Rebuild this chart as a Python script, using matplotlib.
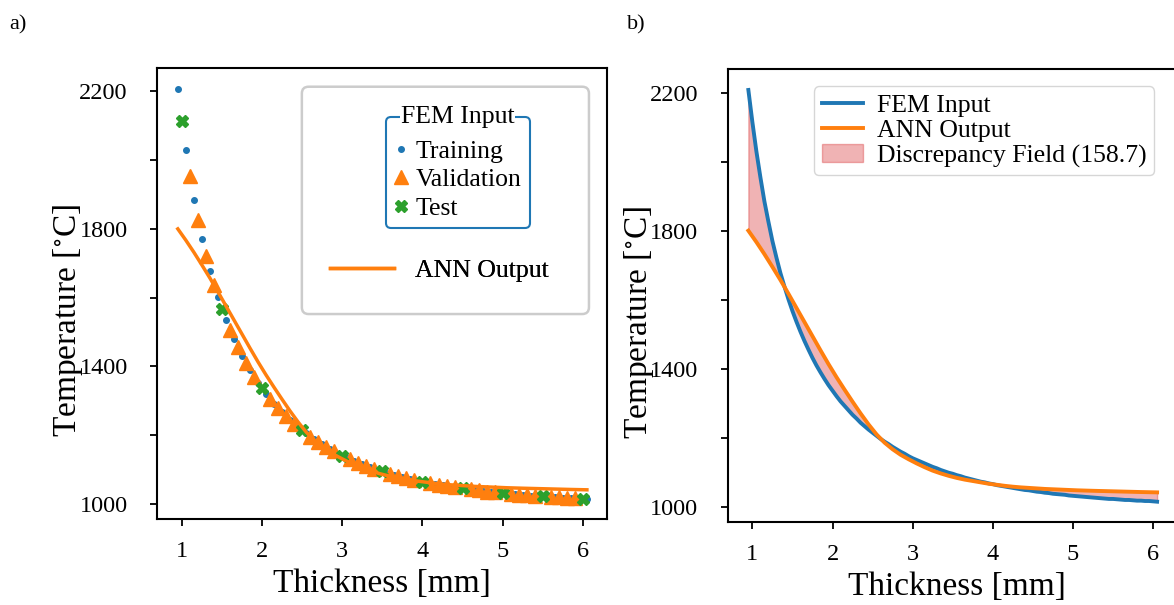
import numpy as np
import matplotlib
matplotlib.use("Agg")
import matplotlib.pyplot as plt
from matplotlib.lines import Line2D
from matplotlib.patches import FancyBboxPatch

plt.rcParams['font.family'] = ['Liberation Serif', 'DejaVu Serif']
plt.rcParams['mathtext.fontset'] = 'stix'

# FEM data (thickness in mm, temperature in degC)
train_x = [0.95, 1.05, 1.15, 1.25, 1.35, 1.45, 1.55, 1.65, 1.75, 1.85, 1.95, 2.05, 2.15,
           2.25, 2.35, 2.45, 2.55, 2.65, 2.75, 2.85, 2.95, 3.05, 3.15, 3.25, 3.35, 3.45,
           3.55, 3.65, 3.75, 3.85, 3.95, 4.05, 4.15, 4.25, 4.35, 4.45, 4.55, 4.65, 4.75,
           4.85, 4.95, 5.05, 5.15, 5.25, 5.35, 5.45, 5.55, 5.65, 5.75, 5.85, 5.95, 6.05]
train_T = [2208, 2030, 1885, 1770, 1677, 1601, 1536, 1480, 1431, 1389, 1352, 1320, 1292,
           1266, 1243, 1223, 1205, 1188, 1173, 1159, 1146, 1135, 1125, 1115, 1106, 1098,
           1091, 1084, 1078, 1072, 1067, 1062, 1058, 1054, 1050, 1047, 1043, 1040, 1037,
           1035, 1032, 1030, 1028, 1026, 1024, 1022, 1021, 1019, 1018, 1017, 1016, 1014]

val_x = [1.1, 1.2, 1.3, 1.4, 1.6, 1.7, 1.8, 1.9, 2.1, 2.2, 2.3, 2.4, 2.6, 2.7, 2.8, 2.9,
         3.1, 3.2, 3.3, 3.4, 3.6, 3.7, 3.8, 3.9, 4.1, 4.2, 4.3, 4.4, 4.6, 4.7, 4.8, 4.9,
         5.1, 5.2, 5.3, 5.4, 5.6, 5.7, 5.8, 5.9]
val_T = [1955, 1826, 1722, 1638, 1507, 1455, 1409, 1370, 1305, 1279, 1255, 1233, 1196, 1181,
         1166, 1153, 1130, 1120, 1111, 1102, 1088, 1081, 1075, 1070, 1060, 1056, 1052, 1048,
         1042, 1039, 1036, 1034, 1029, 1027, 1025, 1023, 1020, 1019, 1017, 1016]

test_x = [1.0, 1.5, 2.0, 2.5, 3.0, 3.5, 4.0, 4.5, 5.0, 5.5, 6.0]
test_T = [2115, 1567, 1336, 1214, 1140, 1095, 1065, 1045, 1031, 1022, 1015]

# ANN output
ann_x = train_x
ann_T = [1800, 1767, 1732, 1695, 1657, 1617, 1576, 1535, 1494, 1453, 1413, 1375, 1339,
         1304, 1270, 1238, 1209, 1185, 1166, 1150, 1137, 1125, 1114, 1104, 1096, 1089,
         1083, 1078, 1074, 1070, 1066, 1063, 1060, 1057.5, 1055.5, 1054, 1052.5, 1051, 1050,
         1049, 1048, 1047, 1046.3, 1045.6, 1045, 1044.4, 1043.8, 1043.2, 1042.6, 1042,
         1041.5, 1041]

discrepancy = 158.7

yticks = [1000, 1200, 1400, 1600, 1800, 2000, 2200]
ytick_labels = ['1000', '', '1400', '', '1800', '', '2200']
xticks = [1, 2, 3, 4, 5, 6]

blue = 'tab:blue'
orange = 'tab:orange'
green = 'tab:green'

fig = plt.figure(figsize=(11.74, 6.05), dpi=100)
ax_a = fig.add_axes([0.1337, 0.1421, 0.3833, 0.7455])
ax_b = fig.add_axes([0.6197, 0.1377, 0.39, 0.7478])

# ---- panel a
ax_a.plot(train_x, train_T, 'o', ms=4, color=blue, ls='none')
ax_a.plot(val_x, val_T, '^', ms=9.5, color=orange, ls='none')
ax_a.plot(test_x, test_T, 'X', ms=8, color=green, ls='none')
ax_a.plot(ann_x, ann_T, color=orange, lw=2.5)

# ---- panel b
fem_x = np.concatenate([train_x, val_x, test_x])
fem_T = np.concatenate([train_T, val_T, test_T])
order = np.argsort(fem_x)
ax_b.plot(fem_x[order], fem_T[order], color=blue, lw=2.8, label='FEM Input')
ax_b.plot(ann_x, ann_T, color=orange, lw=2.8, label='ANN Output')
ax_b.fill_between(ann_x, train_T, ann_T, color='tab:red', alpha=0.35,
                  label='Discrepancy Field (%.1f)' % discrepancy)

for ax in (ax_a, ax_b):
    ax.set_ylim(956, 2268)
    ax.set_yticks(yticks)
    ax.set_yticklabels(ytick_labels)
    ax.set_xticks(xticks)
    ax.tick_params(direction='out', length=5, width=1.3, labelsize=17.5)
    ax.tick_params(axis='y', pad=16)
    ax.tick_params(axis='x', pad=11)
    for sp in ax.spines.values():
        sp.set_linewidth(1.5)
    ax.set_xlabel('Thickness [mm]', fontsize=24)
    ax.set_ylabel(r'Temperature [$^{\circ}$C]', fontsize=24)
    ax.xaxis.set_label_coords(0.5, -0.11)

ax_a.set_xlim(0.69, 6.30)
ax_b.set_xlim(0.69, 6.403)
ax_a.yaxis.set_label_coords(-0.16, 0.44)
ax_b.yaxis.set_label_coords(-0.157, 0.44)

# legend panel b
ax_b.legend(loc='upper left', bbox_to_anchor=(0.189, 0.962), borderaxespad=0,
            fontsize=18.5, handlelength=1.6, handletextpad=0.55, labelspacing=0.08,
            borderpad=0.3, edgecolor='0.8', fancybox=True)

# legend panel a: outer box, nested "FEM Input" legend and ANN entry
box = FancyBboxPatch((0.322, 0.4545), 0.638, 0.504, transform=ax_a.transAxes,
                     boxstyle='round,pad=0,rounding_size=0.015', fc='white', ec='0.8',
                     lw=1.8, zorder=4)
ax_a.add_patch(box)

h_train = Line2D([], [], marker='o', ms=4, color=blue, ls='none')
h_val = Line2D([], [], marker='^', ms=9.5, color=orange, ls='none')
h_test = Line2D([], [], marker='X', ms=8, color=green, ls='none')
leg1 = ax_a.legend([h_train, h_val, h_test], ['Training', 'Validation', 'Test'],
                   loc='upper left', bbox_to_anchor=(0.508, 0.892), borderaxespad=0,
                   fontsize=18.5, handlelength=0.6, handletextpad=0.25, labelspacing=0.22,
                   borderpad=0.32, edgecolor=blue, framealpha=1, fancybox=True,
                   title=' ', title_fontsize=7)
leg1.get_frame().set_linewidth(1.5)
leg1.set_zorder(5)
ax_a.add_artist(leg1)

h_ann = Line2D([], [], color=orange, lw=2.5)
leg2 = ax_a.legend([h_ann], ['ANN Output'], loc='center left',
                   bbox_to_anchor=(0.362, 0.552), borderaxespad=0, frameon=False,
                   fontsize=18.5, handlelength=2.5, handletextpad=0.8)
leg2.set_zorder(5)
ax_a.add_artist(leg2)

fig.canvas.draw()
bb = leg1.get_frame().get_window_extent()
cx, cy = ax_a.transAxes.inverted().transform(((bb.x0 + bb.x1) / 2, bb.y1))
ax_a.text(cx, cy, 'FEM Input', transform=ax_a.transAxes, ha='center', va='center',
          fontsize=18.5, zorder=6,
          bbox=dict(fc='white', ec='none', pad=0.3))

fig.text(0.008, 0.952, 'a)', fontsize=16)
fig.text(0.534, 0.952, 'b)', fontsize=16)

fig.savefig('out.png', dpi=100)
